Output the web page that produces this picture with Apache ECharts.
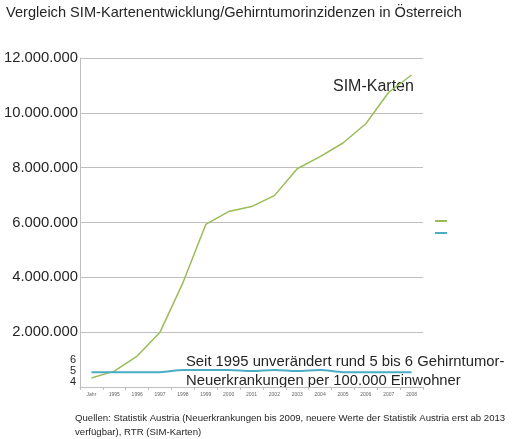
<!DOCTYPE html>
<html>
<head>
<meta charset="utf-8">
<script src="https://cdn.jsdelivr.net/npm/echarts@6/dist/echarts.min.js"></script>
<style>
  html, body { margin: 0; padding: 0; background: #fff; }
  #main { width: 512px; height: 439px; }
</style>
</head>
<body>
<div id="main"></div>
<script>
"use strict";
// Jahr + 1995..2008
var years = ['Jahr', '1995', '1996', '1997', '1998', '1999', '2000', '2001', '2002', '2003', '2004', '2005', '2006', '2007', '2008'];
// SIM-Karten (Anzahl)
var simCards = [330000, 580000, 1130000, 2000000, 3800000, 5930000, 6400000, 6580000, 6980000, 7960000, 8400000, 8900000, 9600000, 10750000, 11380000];
// Gehirntumor-Neuerkrankungen per 100.000 Einwohner
var tumorRate = [4.9, 4.9, 4.9, 4.9, 5.1, 5.1, 5.1, 5.0, 5.1, 5.0, 5.1, 4.9, 4.9, 4.9, 4.9];
var simTicks = [0, 2000000, 4000000, 6000000, 8000000, 10000000, 12000000];
var rateTicks = [4, 5, 6];

var FONT = 'Liberation Sans';

function dots(v) {
    return String(v).replace(/\B(?=(\d{3})+(?!\d))/g, '.');
}

var myChart = echarts.init(document.getElementById('main'));

var option = {
    animation: false,
    backgroundColor: '#fff',
    textStyle: { fontFamily: FONT },
    title: {
        text: 'Vergleich SIM-Kartenentwicklung/Gehirntumorinzidenzen in Österreich',
        left: 1,
        top: 0,
        textStyle: { fontFamily: FONT, fontSize: 14.6, fontWeight: 'normal', color: '#262626' }
    },
    legend: {
        orient: 'vertical',
        left: 430,
        top: 215,
        icon: 'rect',
        itemWidth: 12,
        itemHeight: 2,
        itemGap: 10,
        formatter: function() { return ''; },
        data: ['SIM-Karten', 'Gehirntumor']
    },
    grid: { left: 80, right: 89, top: 58, bottom: 52 },
    xAxis: {
        type: 'category',
        boundaryGap: true,
        data: years,
        axisLine: { lineStyle: { color: '#bfbfbf' } },
        axisTick: { show: true, length: 3, lineStyle: { color: '#bfbfbf' } },
        axisLabel: { fontSize: 5, color: '#666', margin: 5, interval: 0 }
    },
    yAxis: [
        {
            type: 'value',
            min: 0,
            max: simTicks[simTicks.length - 1],
            interval: simTicks[1] - simTicks[0],
            axisLine: { show: true, lineStyle: { color: '#bfbfbf' } },
            axisTick: { show: false },
            splitLine: { lineStyle: { color: '#bfbfbf' } },
            axisLabel: {
                fontSize: 14.8,
                color: '#262626',
                margin: 2,
                formatter: function(v) { return v === 0 ? '' : dots(v); }
            }
        },
        {
            type: 'value',
            position: 'left',
            min: 3.55,
            max: 33.45,
            axisLine: { show: false },
            axisTick: { show: false },
            splitLine: { show: false },
            axisLabel: {
                fontSize: 11,
                color: '#262626',
                margin: 4,
                customValues: rateTicks
            }
        }
    ],
    series: [
        {
            name: 'SIM-Karten',
            type: 'line',
            yAxisIndex: 0,
            data: simCards,
            symbol: 'none',
            lineStyle: { color: '#9BBB59', width: 1.5 },
            itemStyle: { color: '#9BBB59' }
        },
        {
            name: 'Gehirntumor',
            type: 'line',
            yAxisIndex: 1,
            data: tumorRate,
            smooth: 0.3,
            symbol: 'none',
            lineStyle: { color: '#4BACC6', width: 2 },
            itemStyle: { color: '#4BACC6' }
        }
    ],
    graphic: [
        {
            type: 'text', left: 333, top: 79,
            style: { text: 'SIM-Karten', font: '16px "Liberation Sans"', fill: '#262626' }
        },
        {
            type: 'text', left: 186, top: 352,
            style: { text: 'Seit 1995 unverändert rund 5 bis 6 Gehirntumor-\nNeuerkrankungen per 100.000 Einwohner', font: '14.8px "Liberation Sans"', lineHeight: 19, fill: '#262626' }
        },
        {
            type: 'text', left: 75, top: 411,
            style: { text: 'Quellen: Statistik Austria (Neuerkrankungen bis 2009, neuere Werte der Statistik Austria erst ab 2013\nverfügbar), RTR (SIM-Karten)', font: '9.6px "Liberation Sans"', lineHeight: 14, fill: '#262626' }
        }
    ]
};

myChart.setOption(option);
</script>
</body>
</html>
